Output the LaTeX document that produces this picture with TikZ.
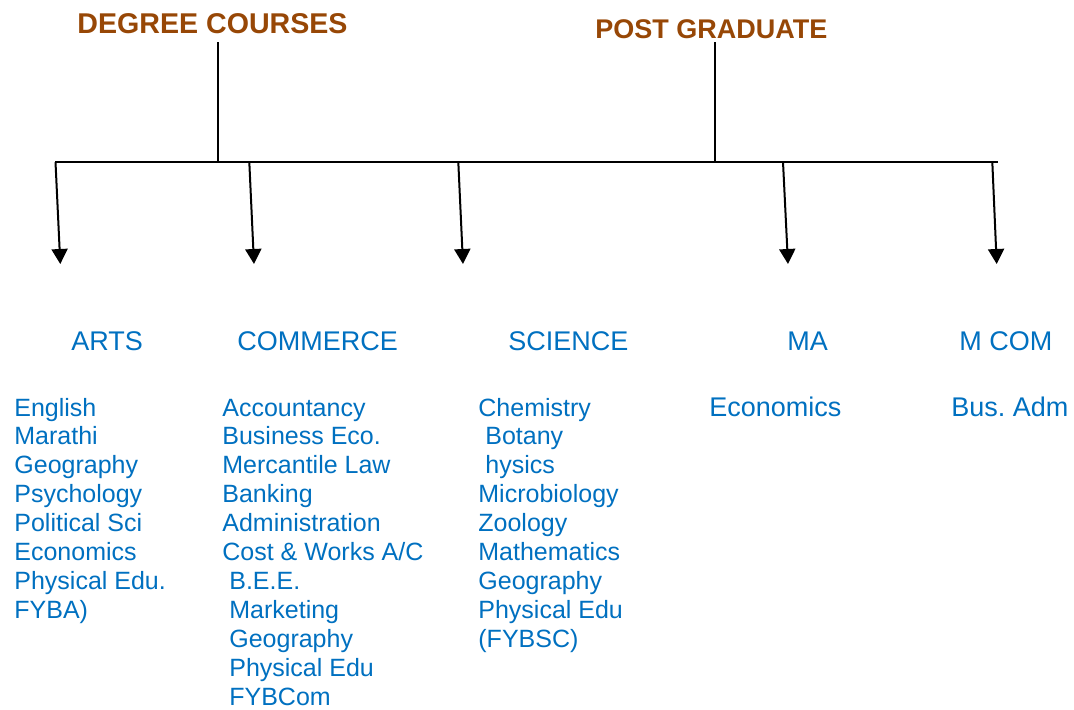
\documentclass[tikz,border=0pt]{standalone}
\usepackage{fontspec}
\setmainfont{Liberation Sans}
\usetikzlibrary{arrows.meta}

\definecolor{titlebrown}{RGB}{151,71,6}
\definecolor{itemblue}{RGB}{0,112,192}

\tikzset{
  headtitle/.style={font=\bfseries\fontsize{14.3}{17}\selectfont, text=titlebrown, anchor=base west, inner sep=0pt},
  branchname/.style={font=\fontsize{13.5}{16}\selectfont, text=itemblue, anchor=base west, inner sep=0pt},
  subjectitem/.style={font=\fontsize{12.5}{14.5}\selectfont, text=itemblue, anchor=base west, inner sep=0pt},
  barline/.style={line width=1pt},
  downarrow/.style={line width=1pt, -{Triangle[width=8pt,length=7.5pt]}}
}

\begin{document}
\frenchspacing
\begin{tikzpicture}[x=0.5pt,y=-0.5pt]
\useasboundingbox (0,0) rectangle (1074,709);

% titles
\node[headtitle] (deg) at (77,33.5) {DEGREE COURSES};
\node[headtitle, font=\bfseries\fontsize{13.5}{17}\selectfont] (pg) at (595,38.5) {POST GRADUATE};

\coordinate (deg-top) at (218,42);
\coordinate (deg-foot) at (218,162);
\coordinate (pg-top) at (715,42);
\coordinate (pg-foot) at (715,162);
\coordinate (bar-w) at (55,162);
\coordinate (bar-e) at (998,162);

\draw[barline] (deg-top) -- (deg-foot);
\draw[barline] (pg-top) -- (pg-foot);
\draw[barline] (bar-w) -- (bar-e);

% branch points and arrow tips
\coordinate (j1) at (55.5,162);
\coordinate (j2) at (249.3,162);
\coordinate (j3) at (458.3,162);
\coordinate (j4) at (783,162);
\coordinate (j5) at (992.3,162);
\coordinate (t1) at (60.3,264);
\coordinate (t2) at (254,264);
\coordinate (t3) at (463,264);
\coordinate (t4) at (788,264);
\coordinate (t5) at (996.7,264);
\foreach \k in {1,...,5}
  \draw[downarrow] (j\k) -- (t\k);

% branches
\node[branchname] (arts) at (71,350) {ARTS};
\node[branchname] (com) at (237,350) {COMMERCE};
\node[branchname] (sci) at (508,350) {SCIENCE};
\node[branchname] (ma) at (787,350) {MA};
\node[branchname] (mcom) at (959,350) {M COM};

% subjects
\foreach \s [count=\i] in {English,Marathi,Geography,Psychology,Political Sci,Economics,Physical Edu.,FYBA)}
  \node[subjectitem] (arts-\i) at (14,416+28.9*\i-28.9) {\s};
\foreach \s [count=\i] in {Accountancy,Business Eco.,Mercantile Law,Banking,Administration,Cost \& Works A/C,\ B.E.E.,\ Marketing,\ Geography,\ Physical Edu,\ FYBCom}
  \node[subjectitem] (com-\i) at (222,416+28.9*\i-28.9) {\s};
\foreach \s [count=\i] in {Chemistry,\ Botany,\ hysics,Microbiology,Zoology,Mathematics,Geography,Physical Edu,(FYBSC)}
  \node[subjectitem] (sci-\i) at (478,416+28.9*\i-28.9) {\s};
\node[branchname] (ma-1) at (709,416) {Economics};
\node[branchname] (mcom-1) at (951,416) {Bus. Adm};
\end{tikzpicture}
\end{document}
